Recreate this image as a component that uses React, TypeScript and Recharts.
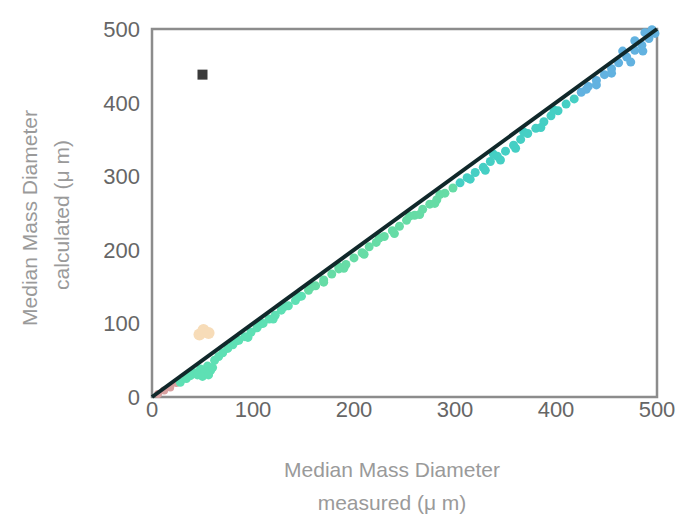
import * as React from "react";
import {
  ReferenceArea,
  Scatter,
  ScatterChart,
  XAxis,
  YAxis,
  ZAxis,
} from "recharts";

type Pt = [number, number];

const TICKS = [0, 100, 200, 300, 400, 500];

// 1:1 reference line
const identityLine: Pt[] = [
  [0, 0],
  [500, 500],
];

const originPts: Pt[] = [
  [6, 4], [12, 9], [18, 13], [24, 19],
];

const orangePts: Pt[] = [
  [47, 85], [51, 91], [56, 87],
];

const greenPts: Pt[] = [
  [28, 20], [34, 25], [38, 29], [42, 33], [45, 30], [48, 38], [52, 33],
  [55, 42], [58, 36], [62, 50], [66, 55], [70, 60], [75, 66], [80, 71],
  [86, 77], [92, 82], [98, 88], [104, 94], [110, 100], [116, 106],
  [122, 111], [128, 118], [135, 124], [142, 131], [148, 137],
  [50, 28], [56, 30], [60, 40], [95, 81], [120, 106], [83, 76],
  [107, 99], [131, 123], [145, 136],
];

const tealPts: Pt[] = [
  [155, 145], [162, 151], [170, 159], [178, 167], [185, 174], [192, 180],
  [200, 189], [208, 196], [215, 204], [222, 210], [230, 218], [238, 226],
  [245, 232], [252, 240], [260, 247], [268, 255], [275, 262], [282, 268],
  [290, 277], [298, 284], [190, 175], [240, 222], [265, 248], [210, 194],
  [170, 156], [280, 263], [158, 150], [185, 177], [225, 216], [255, 246],
  [285, 275],
];

const cyanPts: Pt[] = [
  [305, 291], [312, 298], [320, 305], [328, 312], [335, 320], [342, 327],
  [350, 334], [358, 342], [365, 350], [372, 358], [380, 365], [388, 374],
  [395, 382], [402, 389], [410, 398], [418, 405], [330, 308], [360, 338],
  [345, 322], [315, 296], [385, 366], [338, 330], [368, 360], [398, 390],
];

const bluePts: Pt[] = [
  [425, 414], [432, 422], [440, 430], [448, 438], [455, 446], [462, 454],
  [470, 462], [478, 471], [485, 478], [492, 487], [498, 494], [474, 455],
  [455, 440], [440, 424], [466, 470], [478, 484], [488, 495], [495, 499],
  [430, 418], [486, 470],
];

const markerPts: Pt[] = [[50, 438]];

const toXY = (pts: Pt[]) => pts.map(([x, y]) => ({ x, y }));

const TICK_FONT = "'Liberation Sans', Arial, sans-serif";

function XTick({ x, y, payload }: any) {
  return (
    <text x={x} y={y + 18} textAnchor="middle" fontSize={22} fill="#666" fontFamily={TICK_FONT}>
      {payload.value}
    </text>
  );
}

function YTick({ x, y, payload }: any) {
  return (
    <text x={x} y={y + 8} textAnchor="end" fontSize={22} fill="#666" fontFamily={TICK_FONT}>
      {payload.value}
    </text>
  );
}

const dot = (r: number) => (props: any) =>
  <circle cx={props.cx} cy={props.cy} r={r} fill={props.fill} />;

const square = (props: any) => (
  <rect x={props.cx - 5} y={props.cy - 5} width={10} height={10} fill="#3a3a3a" />
);

export default function App() {
  return (
    <div style={{ position: "absolute", left: 0, top: 0, width: 692, height: 516, background: "#fff" }}>
      <ScatterChart width={692} height={516} margin={{ top: 29, right: 35, bottom: 89, left: 92 }}>
        <XAxis
          type="number"
          dataKey="x"
          domain={[0, 500]}
          ticks={TICKS}
          tick={<XTick />}
          tickSize={0}
          tickMargin={2}
          axisLine={false}
          height={30}
        />
        <YAxis
          type="number"
          dataKey="y"
          domain={[0, 500]}
          ticks={TICKS}
          tick={<YTick />}
          tickSize={0}
          tickMargin={12}
          axisLine={false}
          width={60}
        />
        <ZAxis range={[40, 40]} />
        <ReferenceArea x1={0} x2={500} y1={0} y2={500} fill="none" stroke="#8c8c8c" strokeWidth={2.5} ifOverflow="visible" />
        <Scatter data={toXY(originPts)} fill="#d9a0a0" shape={dot(4)} isAnimationActive={false} />
        <Scatter data={toXY(orangePts)} fill="#f7dcb8" shape={dot(6)} isAnimationActive={false} />
        <Scatter data={toXY(greenPts)} fill="#5ee0b4" shape={dot(4.5)} isAnimationActive={false} />
        <Scatter data={toXY(tealPts)} fill="#66dca6" shape={dot(4.5)} isAnimationActive={false} />
        <Scatter data={toXY(cyanPts)} fill="#45cfc4" shape={dot(4.5)} isAnimationActive={false} />
        <Scatter data={toXY(bluePts)} fill="#62b2e0" shape={dot(4.5)} isAnimationActive={false} />
        <Scatter data={toXY(markerPts)} shape={square} isAnimationActive={false} />
        <Scatter
          data={toXY(identityLine)}
          line={{ stroke: "#10282a", strokeWidth: 4 }}
          shape={() => null}
          isAnimationActive={false}
        />
      </ScatterChart>
      <svg width={692} height={516} style={{ position: "absolute", left: 0, top: 0, pointerEvents: "none" }}>
        <g fontFamily={TICK_FONT} fill="#9a9a9a" fontSize={21} textAnchor="middle">
          <text x={392} y={477}>Median Mass Diameter</text>
          <text x={392} y={510}>measured (μ m)</text>
          <text transform="translate(37,218) rotate(-90)">Median Mass Diameter</text>
          <text transform="translate(69,215) rotate(-90)">calculated (μ m)</text>
        </g>
      </svg>
    </div>
  );
}
